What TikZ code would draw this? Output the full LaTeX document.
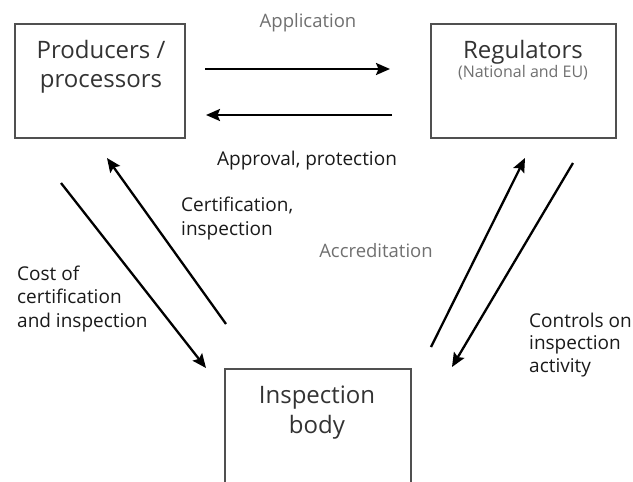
\documentclass[tikz,border=0pt]{standalone}
\usepackage{fontspec}
\setmainfont{Open Sans}
\usetikzlibrary{arrows.meta}
\definecolor{boxline}{HTML}{505050}
\definecolor{boxtext}{HTML}{333333}
\definecolor{lbltext}{HTML}{1A1A1A}
\definecolor{graytext}{HTML}{707070}
\tikzset{
  box/.style={draw=boxline, line width=1.4pt, inner sep=0pt},
  bigtext/.style={anchor=base, text=boxtext, font=\fontsize{24}{29}\selectfont, inner sep=0pt},
  lbl/.style={anchor=base west, text=lbltext, font=\fontsize{19}{23.5}\selectfont, inner sep=0pt},
  glbl/.style={anchor=base, text=graytext, font=\fontsize{18.5}{23.5}\selectfont, inner sep=0pt},
  flow/.style={draw=black, line width=2.3pt, -{Stealth[length=14pt,width=12pt,inset=2.5pt]}},
}
\begin{document}
\begin{tikzpicture}[x=1pt,y=-1pt]
\useasboundingbox (0,0) rectangle (633,482);
\clip (0,0) rectangle (633,482);
\fill[white] (0,0) rectangle (633,482);
% boxes
\node[box, minimum width=170pt, minimum height=114pt] (prod) at (100,81) {};
\node[box, minimum width=185pt, minimum height=114pt] (reg) at (523.5,81) {};
\node[box, minimum width=186pt, minimum height=131pt] (insp) at (318,434.5) {};
% box texts
\node[bigtext] (prodA) at (101,58) {Producers /};
\node[bigtext] (prodB) at (101,87) {processors};
\node[bigtext] (regA) at (523,58) {Regulators};
\node[glbl, font=\fontsize{16}{20}\selectfont] (regB) at (523,77) {(National and EU)};
\node[bigtext] (inspA) at (317,403) {Inspection};
\node[bigtext] (inspB) at (317,433) {body};
% labels
\node[glbl] (lApp) at (308,27) {Application};
\node[lbl, anchor=base] (lAppr) at (307,165) {Approval, protection};
\node[lbl] (lCert) at (181,211) {Certification,};
\node[lbl] (lCert2) at (181,235) {inspection};
\node[glbl] (lAccr) at (376,257) {Accreditation};
\node[lbl] (lCost1) at (17,280) {Cost of};
\node[lbl] (lCost2) at (17,303) {certification};
\node[lbl] (lCost3) at (17,327) {and inspection};
\node[lbl] (lCtl1) at (529,327) {Controls on};
\node[lbl] (lCtl2) at (529,349) {inspection};
\node[lbl] (lCtl3) at (529,372) {activity};
% arrow end points
\coordinate (a1s) at (205,69);  \coordinate (a1e) at (390,69);
\coordinate (a2s) at (392,115); \coordinate (a2e) at (206,115);
\coordinate (a3s) at (61,183);  \coordinate (a3e) at (206,368);
\coordinate (a4s) at (226,324); \coordinate (a4e) at (107,158);
\coordinate (a5s) at (431,347); \coordinate (a5e) at (525,158);
\coordinate (a6s) at (573,163); \coordinate (a6e) at (452,367);
\draw[flow] (a1s) -- (a1e);
\draw[flow] (a2s) -- (a2e);
\draw[flow] (a3s) -- (a3e);
\draw[flow] (a4s) -- (a4e);
\draw[flow] (a5s) -- (a5e);
\draw[flow] (a6s) -- (a6e);
\end{tikzpicture}
\end{document}
